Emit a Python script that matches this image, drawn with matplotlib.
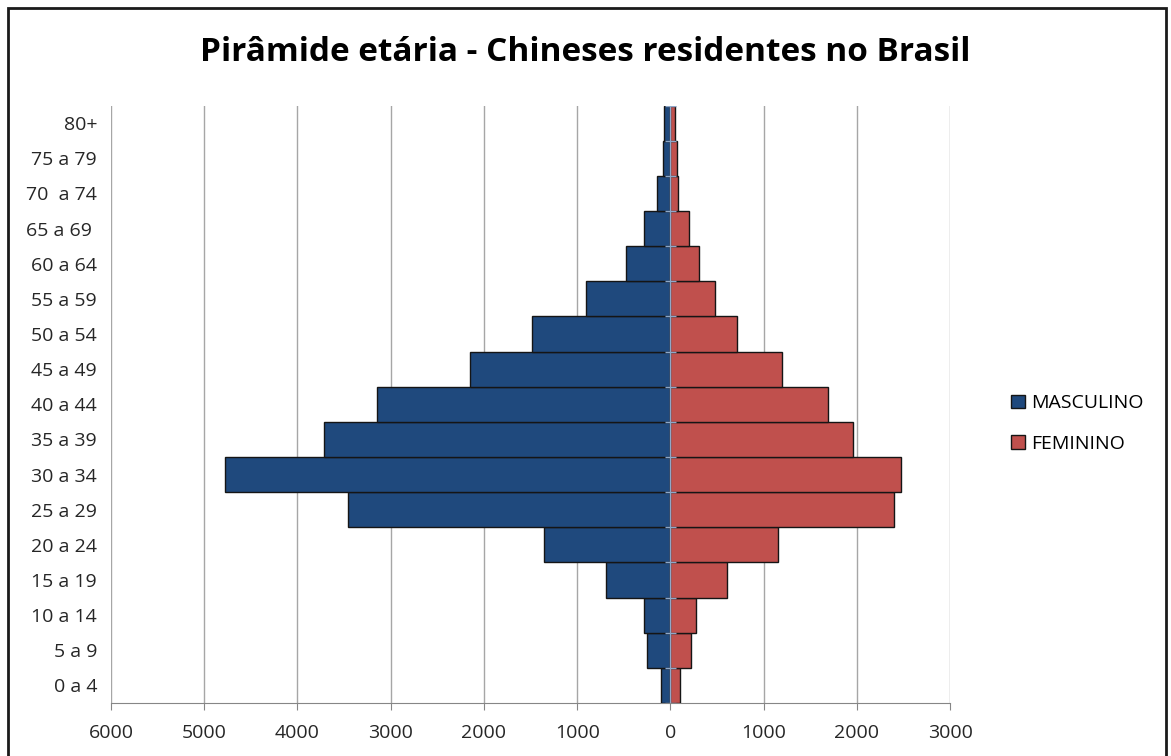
import numpy as np
import matplotlib.pyplot as plt
from matplotlib.patches import Rectangle

# age groups, bottom to top
age_groups = ["0 a 4", "5 a 9", "10 a 14", "15 a 19", "20 a 24", "25 a 29",
              "30 a 34", "35 a 39", "40 a 44", "45 a 49", "50 a 54", "55 a 59",
              "60 a 64", "65 a 69 ", "70  a 74", "75 a 79", "80+"]
masculino = [105, 255, 280, 690, 1360, 3460, 4775, 3715, 3145, 2150, 1485,
             910, 480, 280, 145, 80, 65]
feminino = [105, 220, 270, 605, 1160, 2395, 2470, 1960, 1695, 1195, 715,
            480, 305, 205, 80, 70, 50]
x_ticks = [-6000, -5000, -4000, -3000, -2000, -1000, 0, 1000, 2000, 3000]

plt.rcParams["font.family"] = ["Open Sans", "DejaVu Sans"]

fig = plt.figure(figsize=(11.71, 7.56), dpi=100)
ax = fig.add_axes([0.0948, 0.0701, 0.8113 - 0.0948, 0.8604 - 0.0701])

y = np.arange(len(age_groups))
male = -np.array(masculino)
female = np.array(feminino)

ax.barh(y, male, height=1.0, color="#1F497D", edgecolor="#151515",
        linewidth=1.0, label="MASCULINO", zorder=3)
ax.barh(y, female, height=1.0, color="#C0504D", edgecolor="#151515",
        linewidth=1.0, label="FEMININO", zorder=3)

# vertical category axis sits at zero
ax.axvline(0, color="#8FA8C8", lw=1.0, zorder=4)
ax.hlines(np.arange(len(age_groups) + 1) - 0.5, -60, 60,
          color="#8FA8C8", lw=1.0, zorder=4)

ax.set_xlim(-6000, 3000)
ax.set_ylim(-0.5, len(age_groups) - 0.5)
ax.set_xticks(x_ticks)
ax.set_xticklabels([str(abs(v)) for v in x_ticks])
ax.set_yticks(y)
ax.set_yticklabels(age_groups)

ax.grid(axis="x", color="#A6A6A6", lw=1.0, zorder=0)
for s in ["top", "right", "left"]:
    ax.spines[s].set_visible(False)
ax.spines["bottom"].set_color("#868686")
ax.tick_params(axis="x", length=5, color="#868686", labelsize=14,
               labelcolor="#262626", pad=10)
ax.tick_params(axis="y", length=0, labelsize=14, labelcolor="#262626", pad=10)

fig.text(0.5, 0.931, "Pirâmide etária - Chineses residentes no Brasil",
         ha="center", va="center", fontsize=24, fontweight="bold",
         color="#000000")

fig.legend(loc="center left", bbox_to_anchor=(0.857, 0.44), frameon=False,
           fontsize=14, handlelength=0.7, handleheight=0.7, handletextpad=0.3,
           labelspacing=1.15, borderaxespad=0)

# outer chart border
fig.patches.append(Rectangle((8 / 1171, -0.01), (1166 - 8) / 1171,
                             1.01 - 8 / 756, transform=fig.transFigure,
                             fill=False, edgecolor="#1a1a1a", lw=2))

fig.savefig("out.png", dpi=100)
